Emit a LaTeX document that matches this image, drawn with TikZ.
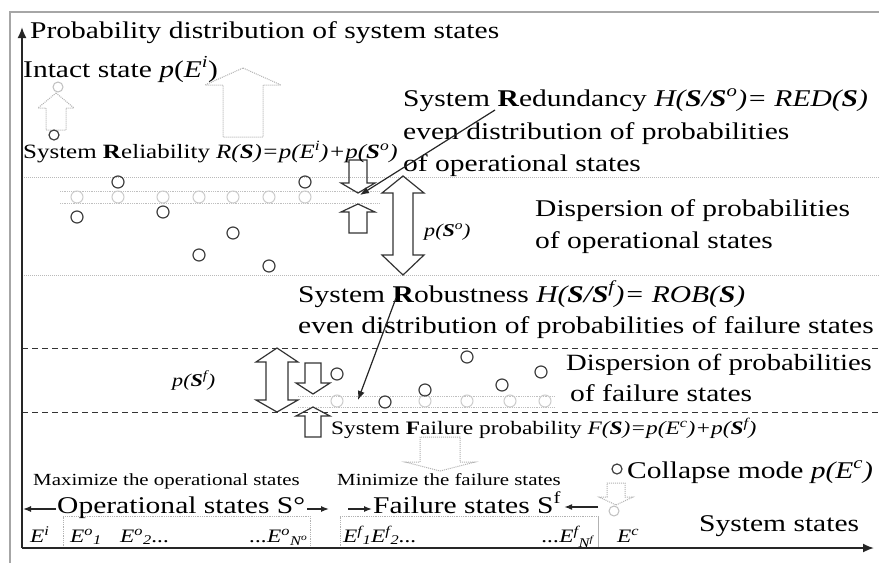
\documentclass[tikz,border=0pt]{standalone}
\usepackage{fontspec}
\setmainfont{Liberation Serif}[FakeStretch=1.23]
\usetikzlibrary{arrows.meta}
\newcommand\fs[1]{\fontsize{#1}{#1}\selectfont}
\newcommand\sups[1]{\textsuperscript{#1}}
\newcommand\boldS{\textbf{\textit{S}}}
% vertical block arrow: [style]{x}{tip y}{head base y}{end y}{shaft half}{head half}
\newcommand\blockarrow[7][]{\draw[#1] (#2,#3) -- ({#2+#7},#4) -- ({#2+#6},#4) -- ({#2+#6},#5) -- ({#2-#6},#5) -- ({#2-#6},#4) -- ({#2-#7},#4) -- cycle;}
% vertical double block arrow: [style]{x}{top tip}{hb1}{hb2}{bottom tip}{shaft half}{head half}
\newcommand\dblarrow[8][]{\draw[#1] (#2,#3) -- ({#2+#8},#4) -- ({#2+#7},#4) -- ({#2+#7},#5) -- ({#2+#8},#5) -- (#2,#6) -- ({#2-#8},#5) -- ({#2-#7},#5) -- ({#2-#7},#4) -- ({#2-#8},#4) -- cycle;}
\tikzset{
  lbl/.style={inner sep=0pt, anchor=base west, font=\fs{24}},
  elbl/.style={inner sep=0pt, anchor=base west, font=\fs{19}},
  gline/.style={gray!55, densely dotted, line width=1pt},
  dline/.style={black!80, dash pattern=on 6pt off 4pt, line width=1pt},
  bandline/.style={gray!50, densely dotted, line width=0.8pt},
  barr/.style={draw=black!80, line width=1.2pt},
  garr/.style={draw=gray!60, densely dotted, line width=1pt},
  dcirc/.style={draw=black!75, line width=1.2pt},
  lcirc/.style={draw=gray!40, line width=1pt},
  axis/.style={black!85, line width=1.8pt, -{Latex[length=11pt,width=9pt]}},
  conn/.style={black!85, line width=1.2pt, -{Latex[length=9pt,width=7pt]}},
  sconn/.style={black!85, line width=1.3pt, -{Latex[length=8pt,width=6pt]}},
}
\begin{document}
\begin{tikzpicture}[x=1pt,y=-1pt]
\fill[white] (0,0) rectangle (879,563);
\useasboundingbox (0,0) rectangle (879,563);
% outer frame
\draw[gray!70, line width=1.5pt] (10,563) -- (10,12) -- (879,12);
% separators
\draw[gline] (22,177) -- (879,177);
\draw[gline] (22,275) -- (879,275);
\draw[dline] (22,348) -- (879,348);
\draw[dline] (22,412) -- (879,412);
% bands of even distribution
\draw[bandline] (60,191) -- (380,191) (60,203) -- (380,203);
\draw[bandline] (298,396) -- (555,396) (298,407) -- (555,407);
% state boxes
\draw[gray!60, densely dotted, line width=0.8pt] (63,548) -- (63,516) -- (310,516) -- (310,548);
\draw[gray!60, densely dotted, line width=0.8pt] (340,548) -- (340,516) -- (598,516);
\draw[gray!60, line width=0.8pt] (598,516) -- (598,548);
% axes
\coordinate (O) at (22,548);
\coordinate (Ytip) at (22,27);
\coordinate (Xtip) at (874,548);
\draw[axis] (O) -- (Ytip);
\draw[axis] (O) -- (Xtip);
% grey arrows (intact state, failure, collapse)
\blockarrow[garr]{56}{93}{108}{130}{10}{18}
\draw[lcirc, gray!50] (58,87) circle [radius=5pt];
\draw[dcirc] (54,135) circle [radius=5pt];
\blockarrow[garr]{243}{68}{85}{137}{20}{38}
\blockarrow[garr]{440}{471}{462}{437}{20}{35}
\blockarrow[garr]{616}{505}{497}{483}{9}{17}
\draw[lcirc, gray!50] (614,511) circle [radius=5pt];
\draw[dcirc] (617,469) circle [radius=5pt];
% black block arrows
\blockarrow[barr]{358}{193}{183}{160}{9}{17}
\blockarrow[barr]{358}{204}{212}{233}{9}{17}
\dblarrow[barr]{403}{176}{193}{255}{275}{10}{21}
\dblarrow[barr]{277}{348}{362}{400}{412}{11}{21}
\blockarrow[barr]{313}{394}{383}{363}{8}{17}
\blockarrow[barr]{313}{407}{416}{437}{8}{17}
% circles: operational states
\foreach \x in {77,118,163,199,233,269,305} \draw[lcirc] (\x,197) circle [radius=6pt];
\foreach \x/\y in {118/182,305/182,77/217,163/212,233/233,199/255,269/266} \draw[dcirc] (\x,\y) circle [radius=6pt];
% circles: failure states
\foreach \x in {337,425,467,510,545} \draw[lcirc] (\x,401) circle [radius=6pt];
\foreach \x/\y in {337/374,385/402,425/390,467/357,502/385,541/372} \draw[dcirc] (\x,\y) circle [radius=6pt];
% texts
\node[lbl] (title) at (30,38) {Probability distribution of system states};
\node[lbl] (intact) at (23,77) {Intact state \textit{p}(\textit{E}\sups{\textit{i}})};
\node[lbl, font=\fs{20.3}] (rel) at (23,158) {System \textbf{R}eliability \textit{R(\boldS)=p(E\sups{i})+p(\boldS\sups{o})}};
\node[lbl] (red1) at (403,106) {System \textbf{R}edundancy \textit{H(\boldS/\boldS\sups{o})= RED(\boldS)}};
\node[lbl] (red2) at (403,139) {even distribution of probabilities};
\node[lbl] (red3) at (403,171) {of operational states};
\node[lbl] (disp1) at (535,216) {Dispersion of probabilities};
\node[lbl] (disp2) at (535,248) {of operational states};
\node[lbl, font=\fs{18}] (pso) at (424,236) {\textit{p(\boldS\sups{o})}};
\node[lbl] (rob1) at (298,302) {System \textbf{R}obustness \textit{H(\boldS/\boldS\sups{f})= ROB(\boldS)}};
\node[lbl] (rob2) at (298,333) {even distribution of probabilities of failure states};
\node[lbl, font=\fs{23.3}] (fdisp1) at (566,370) {Dispersion of probabilities};
\node[lbl] (fdisp2) at (570,401) {of failure states};
\node[lbl, font=\fs{18}] (psf) at (172,386) {\textit{p(\boldS\sups{f})}};
\node[lbl, font=\fs{19}] (fail) at (331,434) {System \textbf{F}ailure probability \textit{F(\boldS)=p(E\sups{c})+p(\boldS\sups{f})}};
\node[lbl, font=\fs{17}] (maxi) at (33,485) {Maximize the operational states};
\node[lbl, font=\fs{17}] (mini) at (337,485) {Minimize the failure states};
\node[lbl] (coll) at (627,478) {Collapse mode \textit{p(E\sups{c})}};
\node[lbl] (opst) at (57,513) {Operational states S°};
\node[lbl] (fast) at (373,513) {Failure states S\sups{f}};
\node[lbl] (sys) at (699,531) {System states};
\node[elbl] (ei) at (30,542) {\textit{E\sups{i}}};
\node[elbl] (eo1) at (70,542) {\textit{E\sups{o}\textsubscript{1}}};
\node[elbl] (eo2) at (120,542) {\textit{E\sups{o}\textsubscript{2}...}};
\node[elbl, anchor=base east] (eon) at (308,542) {\textit{...E\sups{o}\textsubscript{N\sups{o}}}};
\node[elbl] (ef12) at (343,542) {\textit{E\sups{f}\textsubscript{1}E\sups{f}\textsubscript{2}...}};
\node[elbl, anchor=base east] (efn) at (594,542) {\textit{...E\sups{f}\textsubscript{N\sups{f}}}};
\node[elbl] (ec) at (617,542) {\textit{E\sups{c}}};
% pointers
\coordinate (redS) at (495,110);
\coordinate (redT) at (360,195);
\draw[conn] (redS) -- (redT);
\coordinate (robS) at (396,298);
\coordinate (robT) at (358,400);
\draw[conn] (robS) -- (robT);
% range arrows of the state groups
\coordinate (aL) at (23,509);
\coordinate (aR) at (329,509);
\coordinate (aF) at (348,509);
\coordinate (aC) at (598,507);
\draw[sconn] ([shift={(-1pt,4pt)}]opst.base west) -- (aL);
\draw[sconn] ([shift={(2pt,4pt)}]opst.base east) -- (aR);
\draw[sconn] (aF) -- ([shift={(-1pt,4pt)}]fast.base west);
\draw[sconn] (aC) -- ([shift={(3pt,6pt)}]fast.base east);
\end{tikzpicture}
\end{document}
